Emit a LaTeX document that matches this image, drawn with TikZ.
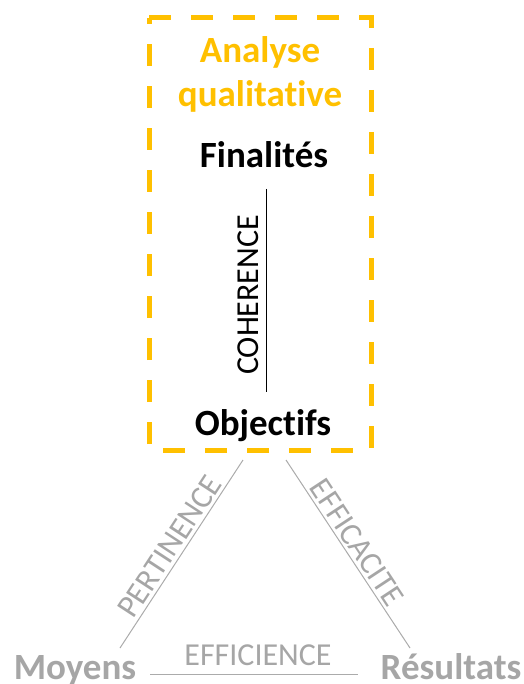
\documentclass[tikz,border=0pt]{standalone}
\usepackage{fontspec}
\setmainfont[Ligatures=NoCommon]{Carlito}
\definecolor{gold}{HTML}{FFC000}
\definecolor{greytxt}{HTML}{A6A6A6}
\definecolor{greyline}{HTML}{ABABAB}
\begin{document}
\begin{tikzpicture}[x=1pt,y=-1pt,
  title/.style={text=gold,font=\fontsize{37}{42}\selectfont\bfseries,anchor=base,inner sep=0pt},
  term/.style={text=black,font=\fontsize{37}{42}\selectfont\bfseries,anchor=base,inner sep=0pt},
  gterm/.style={text=greytxt,font=\fontsize{37}{42}\selectfont\bfseries,anchor=base,inner sep=0pt},
  rel/.style={font=\fontsize{32}{38}\selectfont,inner sep=0pt},
  glink/.style={draw=greyline,line width=1pt},
  frame/.style={draw=gold,line width=5pt,dash pattern=on 22pt off 20pt}]
\useasboundingbox (0,0) rectangle (523,684);
% dashed frame
\draw[frame] (149,18) -- (371,18) -- (371,450) -- (149,450) -- cycle;
\node[title] (t1) at (260,63) {Analyse};
\node[title] (t2) at (260,107) {qualitative};
\node[term] (fin) at (264,168) {Finalités};
\node[term] (obj) at (263,435) {Objectifs};
% coherence
\coordinate (c1) at (266,189);
\coordinate (c2) at (266,392);
\draw[line width=1pt] (c1) -- (c2);
\node[rel,rotate=90,anchor=base] (coh) at (258,295) {COHERENCE};
% bottom
\node[gterm] (moy) at (75,679) {Moyens};
\node[gterm] (res) at (451,679) {Résultats};
\coordinate (p1) at (243,460);
\coordinate (p2) at (120,648);
\coordinate (e1) at (286,460);
\coordinate (e2) at (410,648);
\coordinate (b1) at (150,674);
\coordinate (b2) at (358,674);
\draw[glink] (p2) -- node[rel,text=greytxt,sloped,above=3pt,pos=0.5] (pert) {PERTINENCE} (p1);
\draw[glink] (e1) -- node[rel,text=greytxt,sloped,above=3pt,pos=0.48] (effa) {EFFICACITE} (e2);
\draw[glink] (b1) -- (b2);
\node[rel,text=greytxt,anchor=base] (effi) at (258,665) {EFFICIENCE};
\end{tikzpicture}
\end{document}
